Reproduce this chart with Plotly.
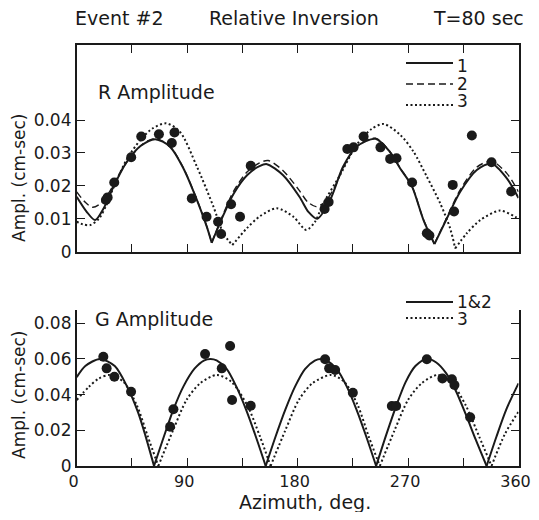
import plotly.graph_objects as go

# ---------------- data ----------------
# R amplitude observations
r_az = [23.8, 25.2, 30.6, 44.4, 52.6, 67.0, 77.5, 79.7, 93.8, 105.8, 115.2, 117.7, 125.8, 133.1, 141.8,
        202.0, 205.3, 220.5, 225.6, 233.8, 247.5, 255.4, 260.6, 273.3, 285.3, 287.4, 306.4, 307.5, 322.0, 338.0, 354.0]
r_amp = [0.0157, 0.0165, 0.0210, 0.0287, 0.0350, 0.0357, 0.0330, 0.0362, 0.0162, 0.0106, 0.0091, 0.0054, 0.0144, 0.0106, 0.0261,
         0.0130, 0.0151, 0.0312, 0.0317, 0.0350, 0.0317, 0.0282, 0.0284, 0.0210, 0.0056, 0.0049, 0.0203, 0.0122, 0.0353, 0.0272, 0.0183]

# R model curves (None separates cusp segments)
r1_az = [0, 8, 15, 22, 30, 41, 52, 64, 76, 87, 98, 106, 110, None,
         110, 119.5, 128, 139, 149, 155, 168, 181.5, 189, 196, 206.5, 217, 228, 243.5, 255, 263.6, 273, 282.6, 291.5, None,
         291.5, 301.6, 312.5, 326, 338, 350.5, 360]
r1_amp = [0.0167, 0.0122, 0.0096, 0.0132, 0.0198, 0.0274, 0.0321, 0.0342, 0.0319, 0.0253, 0.0157, 0.0076, 0.0027, None,
          0.0027, 0.0111, 0.0177, 0.0233, 0.0260, 0.0266, 0.0233, 0.0167, 0.0120, 0.0100, 0.0157, 0.0258, 0.0319, 0.0343, 0.0304, 0.0253, 0.0200, 0.0096, 0.0023, None,
          0.0023, 0.0101, 0.0182, 0.0248, 0.0268, 0.0223, 0.0163]

r2_az = [0, 7, 13, 20, 28, 36, 45, 54, 64, 76, 87, 98, 106, 110, None,
         110, 119.5, 128, 139, 149, 156, 168, 181, 188, 195, 202, 210, 218, 228, 243.5, 255, 263.6, 273, 282.6, 291.5, None,
         291.5, 301.6, 312.5, 326, 338, 350.5, 360]
r2_amp = [0.0182, 0.0150, 0.0135, 0.0148, 0.0190, 0.0245, 0.0292, 0.0328, 0.0344, 0.0320, 0.0254, 0.0158, 0.0077, 0.0028, None,
          0.0028, 0.0115, 0.0185, 0.0243, 0.0270, 0.0277, 0.0247, 0.0188, 0.0152, 0.0137, 0.0150, 0.0195, 0.0260, 0.0320, 0.0345, 0.0305, 0.0254, 0.0201, 0.0097, 0.0024, None,
          0.0024, 0.0104, 0.0188, 0.0257, 0.0275, 0.0238, 0.0182]

r3_az = [0, 5, 11, 18, 24, 30, 41, 52, 62, 73, 84, 98, 111.4, 119.5, 126.8, None,
         126.8, 138.6, 149.4, 163, 176.6, 187, 194, 201, 214.6, 228, 240, 250, 263.6, 274.4, 285.3, 296.2, 304.3, 308.4, None,
         308.4, 317.9, 328.8, 345, 357.3, 360]
r3_amp = [0.0091, 0.0083, 0.0081, 0.0100, 0.0140, 0.0195, 0.0282, 0.0340, 0.0375, 0.0390, 0.0365, 0.0258, 0.0137, 0.0056, 0.0020, None,
          0.0020, 0.0071, 0.0108, 0.0132, 0.0106, 0.0066, 0.0090, 0.0147, 0.0233, 0.0324, 0.0372, 0.0388, 0.0355, 0.0304, 0.0228, 0.0147, 0.0071, 0.0010, None,
          0.0010, 0.0056, 0.0096, 0.0125, 0.0106, 0.0100]

# G amplitude observations
g_az = [21.7, 24.4, 30.7, 44.3, 76.1, 78.8, 104.6, 118.2, 125.0, 126.6, 141.8,
        202.4, 205.7, 210.6, 225.0, 256.8, 260.3, 285.3, 298.0, 305.7, 307.8, 320.6]
g_amp = [0.0612, 0.0547, 0.0500, 0.0416, 0.0220, 0.0318, 0.0627, 0.0547, 0.0672, 0.0370, 0.0338,
         0.0598, 0.0547, 0.0538, 0.0410, 0.0336, 0.0336, 0.0598, 0.0490, 0.0486, 0.0454, 0.0273]

# G model curves
g1_az = [0, 7, 19, 31, 41, 50, 56, 63, None,
         63, 71, 79, 87, 96, 104, 109, 114, 122, 130, 138, 146, 154, None,
         154, 162, 170, 178, 186, 194, 199, 204, 212, 220, 228, 236, 244, None,
         244, 252, 260, 268, 276, 285, 293, 301, 309, 317, 325, 334, None,
         334, 342, 350, 360]
g1_amp = [0.0497, 0.0560, 0.0600, 0.0560, 0.0446, 0.0300, 0.0170, 0, None,
          0, 0.0164, 0.0320, 0.0446, 0.0545, 0.0592, 0.0600, 0.0592, 0.0545, 0.0446, 0.0316, 0.0164, 0, None,
          0, 0.0164, 0.0316, 0.0446, 0.0543, 0.0591, 0.0600, 0.0591, 0.0543, 0.0446, 0.0316, 0.0164, 0, None,
          0, 0.0170, 0.0330, 0.0470, 0.0560, 0.0600, 0.0580, 0.0520, 0.0420, 0.0290, 0.0150, 0, None,
          0, 0.0164, 0.0316, 0.0463]

g3_az = [0, 10, 18, 27, 38, 49, 58, 66.5, None,
         66.5, 78.5, 89.5, 100.5, 114, 126, 139, 149.4, 158, None,
         158, 170, 181, 192, 207, 218, 229, 238, 247, None,
         247, 259, 270, 281, 294, 305, 317, 328, 338, None,
         338, 349, 360]
g3_amp = [0.0370, 0.0444, 0.0490, 0.0510, 0.0472, 0.0340, 0.0164, 0, None,
          0, 0.0200, 0.0370, 0.0463, 0.0510, 0.0472, 0.0340, 0.0164, 0, None,
          0, 0.0200, 0.0370, 0.0463, 0.0510, 0.0472, 0.0340, 0.0164, 0, None,
          0, 0.0200, 0.0370, 0.0463, 0.0510, 0.0472, 0.0340, 0.0164, 0, None,
          0, 0.0180, 0.0304]

x_ticks = [0, 45, 90, 135, 180, 225, 270, 315, 360]
x_ticktext = ["0", "", "90", "", "180", "", "270", "", "360"]
r_ticks = [0, 0.01, 0.02, 0.03, 0.04]
r_ticktext = ["0", "0.01", "0.02", "0.03", "0.04"]
g_ticks = [0, 0.02, 0.04, 0.06, 0.08]
g_ticktext = ["0", "0.02", "0.04", "0.06", "0.08"]

r_legend_labels = ["1", "2", "3"]
g_legend_labels = ["1&2", "3"]

# ---------------- figure ----------------
# the page places the figure 8 px from the top-left corner (default body margin);
# the figure is sized so the page does not overflow the 539x520 window.
OFF = 8
W, H = 539 - 2 * OFF, 520 - 2 * OFF
FONT = "DejaVu Sans"
INK = "#1a1a1a"
SOLID = dict(color=INK, width=2)
DASHED = dict(color=INK, width=1.4, dash="7px,4px")
DOTTED = dict(color=INK, width=2, dash="2px,2.5px")


def px(x):
    return (x - OFF) / W


def py(y):
    return 1 - (y - OFF) / H


fig = go.Figure()

SMOOTH = 0.8


def curve(x, y, style, xa, ya, name):
    fig.add_trace(go.Scatter(x=x, y=y, mode="lines", name=name, showlegend=False,
                             line=dict(shape="spline", smoothing=SMOOTH, **style),
                             connectgaps=False, xaxis=xa, yaxis=ya))


curve(r1_az, r1_amp, SOLID, "x", "y", r_legend_labels[0])
curve(r2_az, r2_amp, DASHED, "x", "y", r_legend_labels[1])
curve(r3_az, r3_amp, DOTTED, "x", "y", r_legend_labels[2])
fig.add_trace(go.Scatter(x=r_az, y=r_amp, mode="markers", showlegend=False, name="R observed",
                         marker=dict(color=INK, size=10), xaxis="x", yaxis="y"))

curve(g1_az, g1_amp, SOLID, "x2", "y2", g_legend_labels[0])
curve(g3_az, g3_amp, DOTTED, "x2", "y2", g_legend_labels[1])
fig.add_trace(go.Scatter(x=g_az, y=g_amp, mode="markers", showlegend=False, name="G observed",
                         marker=dict(color=INK, size=10), xaxis="x2", yaxis="y2"))

xdom = [px(76.7), px(518.5)]
axis_common = dict(showline=True, linecolor=INK, linewidth=1.6, ticks="inside", ticklen=8,
                   tickwidth=1.4, tickcolor=INK, showgrid=False, zeroline=False, automargin=False)
tick17 = dict(family=FONT, size=17, color=INK)
tick16 = dict(family=FONT, size=16, color=INK)

fig.update_layout(
    template="none",
    width=W, height=H,
    margin=dict(l=0, r=0, t=0, b=0, pad=0),
    paper_bgcolor="white", plot_bgcolor="white",
    font=dict(family=FONT, color=INK),
    showlegend=False,
    xaxis=dict(domain=xdom, anchor="y", range=[0, 360], tickvals=x_ticks,
               showticklabels=False, mirror="ticks", **axis_common),
    yaxis=dict(domain=[py(251.7), py(45)], anchor="x", range=[0, 0.0628],
               tickvals=r_ticks, ticktext=r_ticktext, mirror="ticks", tickfont=tick17, **axis_common),
    xaxis2=dict(domain=xdom, anchor="y2", range=[0, 360], tickvals=x_ticks,
                ticktext=x_ticktext, mirror=False, ticklabeloverflow="allow",
                ticklabelshift=-3, tickfont=tick16, **axis_common),
    yaxis2=dict(domain=[py(466), py(310)], anchor="x2", range=[0, 0.0874],
                tickvals=g_ticks, ticktext=g_ticktext, mirror="ticks", tickfont=tick17, **axis_common),
)

# legend keys (drawn as in the original figure: line sample followed by label)
keys = [
    (SOLID, 63, r_legend_labels[0], 66),
    (DASHED, 84, r_legend_labels[1], 84),
    (DOTTED, 105, r_legend_labels[2], 101),
    (SOLID, 302, g_legend_labels[0], 302),
    (DOTTED, 318, g_legend_labels[1], 319),
]
for style, ly, label, ty in keys:
    fig.add_shape(type="line", xref="paper", yref="paper", x0=px(406), x1=px(453),
                  y0=py(ly), y1=py(ly), line=style)
    fig.add_annotation(xref="paper", yref="paper", x=px(455), y=py(ty), text=label,
                       xanchor="left", yanchor="middle", showarrow=False,
                       font=dict(family=FONT, size=17, color=INK))

ann = [
    dict(text="Event #2", x=px(73), y=py(18), xanchor="left", size=19),
    dict(text="Relative Inversion", x=px(207), y=py(18), xanchor="left", size=19),
    dict(text="T=80 sec", x=px(526), y=py(18), xanchor="right", size=19),
    dict(text="R Amplitude", x=px(96), y=py(92), xanchor="left", size=19),
    dict(text="G Amplitude", x=px(93), y=py(319), xanchor="left", size=19),
    dict(text="Azimuth, deg.", x=px(305), y=py(502), xanchor="center", size=19),
]
for a in ann:
    size = a.pop("size")
    fig.add_annotation(xref="paper", yref="paper", yanchor="middle", showarrow=False,
                       font=dict(family=FONT, size=size, color=INK), **a)
for yc in (178, 395):
    fig.add_annotation(xref="paper", yref="paper", x=px(19), y=py(yc), text="Ampl. (cm-sec)",
                       textangle=-90, showarrow=False, xanchor="center", yanchor="middle",
                       font=dict(family=FONT, size=17, color=INK))

fig.write_html("out.html")
